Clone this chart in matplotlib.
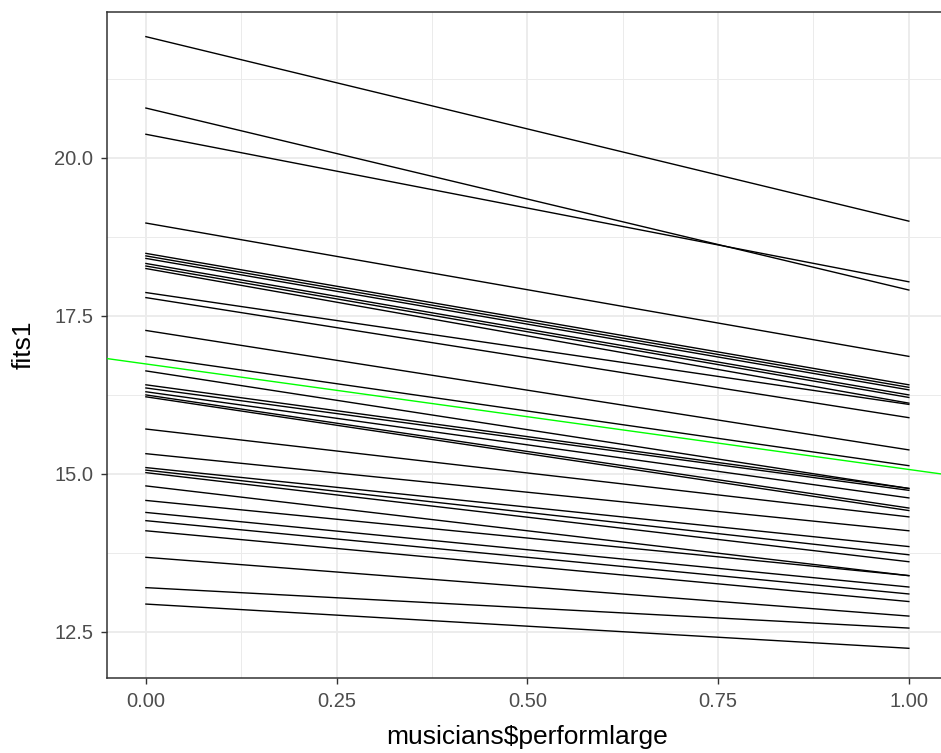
import matplotlib
matplotlib.use("Agg")
import matplotlib.pyplot as plt

# fitted values at performlarge = 0 and performlarge = 1, one line per musician
fit_at_0 = [21.92, 20.79, 20.375, 18.97, 18.49, 18.45, 18.41, 18.33, 18.29, 18.25,
            17.87, 17.79, 17.27, 16.86, 16.63, 16.41, 16.36, 16.30, 16.25, 16.22,
            15.71, 15.32, 15.10, 15.06, 15.02, 14.81, 14.58, 14.39, 14.26, 14.10,
            13.68, 13.20, 12.94]
fit_at_1 = [19.00, 17.91, 18.04, 16.86, 16.41, 16.37, 16.33, 16.25, 16.21, 16.12,
            16.10, 15.89, 15.38, 15.13, 14.77, 14.77, 14.74, 14.62, 14.46, 14.42,
            14.32, 14.10, 13.85, 13.72, 13.61, 13.39, 13.39, 13.21, 13.10, 12.98,
            12.75, 12.56, 12.24]
x_ends = [0, 1]

# overall fixed effect line (abline)
green_intercept = 16.74
green_slope = -1.67

x_ticks = [0.0, 0.25, 0.5, 0.75, 1.0]
x_ticklabels = ["0.00", "0.25", "0.50", "0.75", "1.00"]
y_ticks = [12.5, 15.0, 17.5, 20.0]
y_ticklabels = ["12.5", "15.0", "17.5", "20.0"]

plt.rcParams['font.family'] = ['Liberation Sans', 'DejaVu Sans']

fig = plt.figure(figsize=(9.41, 7.53), dpi=100)
ax = fig.add_axes([107 / 941, 75 / 753, 840 / 941, 666 / 753])

for a, b in zip(fit_at_0, fit_at_1):
    ax.plot(x_ends, [a, b], color="black", linewidth=1.0, zorder=3)

ax.set_xlim(-0.051, 1.05)
ax.set_ylim(11.77, 22.31)
ax.axline((0, green_intercept), slope=green_slope, color="#00FF00", linewidth=1.0, zorder=4)

ax.set_xticks(x_ticks)
ax.set_xticklabels(x_ticklabels)
ax.set_yticks(y_ticks)
ax.set_yticklabels(y_ticklabels)
ax.set_xticks([0.125, 0.375, 0.625, 0.875], minor=True)
ax.set_yticks([13.75, 16.25, 18.75, 21.25], minor=True)

ax.grid(which="major", color="#EBEBEB", linewidth=1.3, zorder=0)
ax.grid(which="minor", color="#EBEBEB", linewidth=0.7, zorder=0)
ax.set_axisbelow(True)
ax.tick_params(which="minor", length=0)
ax.tick_params(which="major", length=4, width=1.0, color="#333333",
               labelcolor="#4D4D4D", labelsize=14.5, pad=6)
for s in ax.spines.values():
    s.set_color("#333333")
    s.set_linewidth(1.1)

ax.set_xlabel("musicians$performlarge", fontsize=19, color="black", labelpad=10)
ax.set_ylabel("fits1", fontsize=19, color="black", labelpad=13)

fig.savefig("out.png", dpi=100)
